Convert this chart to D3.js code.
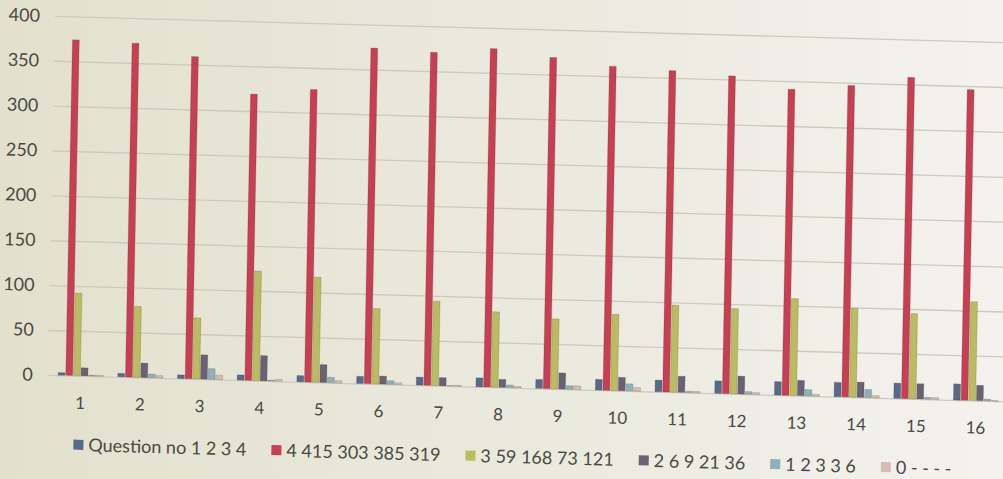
<!DOCTYPE html>
<html><head><meta charset="utf-8">
<script src="https://cdn.jsdelivr.net/npm/d3@7"></script>
<style>html,body{margin:0;padding:0;background:#ebe9dd;} svg{display:block;}</style>
</head><body><svg id="chart" width="1003" height="479"></svg>
<script>
// ---- data ----
const categories = ["1","2","3","4","5","6","7","8","9","10","11","12","13","14","15","16"];
const seriesNames = ["Question no 1 2 3 4","4 415 303 385 319","3 59 168 73 121","2 6 9 21 36","1 2 3 3 6","0 - - - -"];
const questionNo = [3,4,4,6,7,8,9,10,10,12,13,14,15,16,17,18];
const resp4 = [374,372,359,319,326,374,371,377,369,361,358,354,341,347,358,346];
const resp3 = [92,79,68,122,117,84,94,84,78,85,97,95,108,99,95,110];
const resp2 = [9,16,27,28,20,9,9,9,18,15,18,20,17,17,17,17];
const resp1 = [1,4,12,1,6,4,0.5,3,4,8,1.5,3,7,9,2,2];
const resp0 = [1,2.5,5,2,2.5,2,1,1.5,4,4,1.5,2,2,2.5,2,0.5];
const yTicks = [0,50,100,150,200,250,300,350,400];
const colors = ["#566a8a","#c63f52","#bbbb5f","#6a6274","#8fb0b8","#d3beb0"];

const series = [questionNo, resp4, resp3, resp2, resp1, resp0];

const svg = d3.select("#chart");
const defs = svg.append("defs");
const grad = defs.append("linearGradient").attr("id","bg").attr("x1","0").attr("x2","1").attr("y1","0").attr("y2","0");
grad.append("stop").attr("offset","0").attr("stop-color","#e3e1cd");
grad.append("stop").attr("offset","0.5").attr("stop-color","#eae9dd");
grad.append("stop").attr("offset","1").attr("stop-color","#f3f2ee");
svg.append("rect").attr("width",1003).attr("height",479).attr("fill","url(#bg)");

// photographed page is slightly tilted
const g = svg.append("g").attr("transform","matrix(1,0.0277,-0.02,1,0.32,-1.662)");

const x0 = d3.scaleBand().domain(categories).range([58,1013]).paddingInner(0.23).paddingOuter(0.115);
const x1 = d3.scaleBand().domain(d3.range(series.length)).range([0,x0.bandwidth()]);
const y = d3.scaleLinear().domain([0,400]).range([375,16]);

const textColor = "#4a4942";

// y axis with gridlines
const ya = g.append("g").attr("transform","translate(55,0)")
  .call(d3.axisLeft(y).tickValues(yTicks).tickSize(-958).tickPadding(15));
ya.select(".domain").remove();
ya.selectAll(".tick line").attr("stroke","#cccabb").attr("stroke-width",1.3);
ya.selectAll(".tick text").attr("fill",textColor).style("font-family","Lato, sans-serif").style("font-size","18px");

// bars
g.append("g").selectAll("g").data(categories).join("g")
  .attr("transform",d=>`translate(${x0(d)},0)`)
  .selectAll("rect").data((d,i)=>series.map((s,k)=>({k:k,v:s[i]}))).join("rect")
  .attr("x",d=>x1(d.k)+0.4)
  .attr("width",x1.bandwidth()-0.8)
  .attr("y",d=>y(d.v))
  .attr("height",d=>y(0)-y(d.v))
  .attr("fill",d=>colors[d.k])
  .attr("stroke","rgba(60,40,40,0.25)")
  .attr("stroke-width",0.7);

// x axis
const xa = g.append("g").attr("transform",`translate(0,${y(0)})`)
  .call(d3.axisBottom(x0).tickSize(0).tickPadding(21));
xa.select(".domain").remove();
xa.selectAll(".tick text").attr("fill",textColor).style("font-family","Lato, sans-serif").style("font-size","17px");

// legend
const lg = g.append("g").attr("transform","translate(0,444)");
const items = lg.selectAll("g").data(seriesNames).join("g");
items.append("rect").attr("x",0).attr("y",-5).attr("width",10).attr("height",10).attr("fill",(d,i)=>colors[i]);
items.append("text").attr("x",15).attr("y",0).attr("dy","0.35em").text(d=>d)
  .attr("fill",textColor).style("font-family","Lato, sans-serif").style("font-size","18px");
const widths = [];
items.each(function(){ widths.push(15 + d3.select(this).select("text").node().getComputedTextLength()); });
const startX = 82, endX = 960;
const gap = (endX - startX - d3.sum(widths)) / (widths.length - 1);
let cx = startX;
items.each(function(d,i){ d3.select(this).attr("transform",`translate(${cx},0)`); cx += widths[i] + gap; });
</script></body></html>
